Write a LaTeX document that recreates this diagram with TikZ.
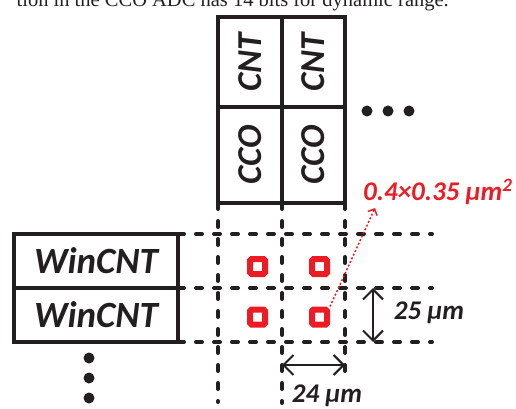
\documentclass[tikz,border=0pt]{standalone}
\usepackage{fontspec}
\setmainfont{Carlito}
\newfontfamily\serifx{Liberation Serif}
\usetikzlibrary{arrows.meta}
\definecolor{myred}{RGB}{237,28,36}
\definecolor{ink}{RGB}{35,31,32}
\tikzset{
  cellbox/.style={draw=ink, line width=4pt, inner sep=0pt, outer sep=0pt, text=ink,
    font=\bfseries\itshape\fontsize{35}{38}\selectfont},
  gridline/.style={draw=ink, line width=4pt, line cap=round, dash pattern=on 6pt off 12pt},
  redsq/.style={draw=myred, line width=6pt, minimum size=15pt, rounded corners=1.5pt, inner sep=0pt},
  blackdot/.style={circle, fill=ink, minimum size=11pt, inner sep=0pt},
  dimarrow/.style={draw=ink, line width=2pt, {Straight Barb[length=10pt,width=20pt]}-{Straight Barb[length=10pt,width=20pt]}},
  dimlabel/.style={text=ink, font=\bfseries\itshape\fontsize{27}{30}\selectfont, inner sep=0pt},
}
\begin{document}
\begin{tikzpicture}[x=1pt,y=-1pt]
\useasboundingbox (0,0) rectangle (516,409);
\node[anchor=base east, inner sep=0pt, text=ink, font=\serifx\fontsize{20.5}{24}\selectfont] (caption) at (449,6.5) {tion in the CCO ADC has 14 bits for dynamic range.};
% column cells
\node[cellbox, rotate=90, minimum width=90pt, minimum height=64pt] (cnt1) at (250,62) {CNT};
\node[cellbox, rotate=90, minimum width=90pt, minimum height=63pt] (cnt2) at (313.5,62) {CNT};
\node[cellbox, rotate=90, minimum width=96pt, minimum height=64pt] (cco1) at (250,155) {CCO};
\node[cellbox, rotate=90, minimum width=96pt, minimum height=63pt] (cco2) at (313.5,155) {CCO};
% row boxes
\node[cellbox, minimum width=164pt, minimum height=54pt, font=\bfseries\itshape\fontsize{37}{40}\selectfont] (win1) at (96,261) {WinCNT};
\node[cellbox, minimum width=164pt, minimum height=54pt, font=\bfseries\itshape\fontsize{37}{40}\selectfont] (win2) at (96,315) {WinCNT};
% grid coordinates
\coordinate (v1t) at (218,203); \coordinate (v1b) at (218,402);
\coordinate (v2t) at (282,203); \coordinate (v2b) at (282,403);
\coordinate (v3t) at (345,203); \coordinate (v3b) at (345,382);
\coordinate (h1e) at (432,234);
\coordinate (h2e) at (432,288);
\coordinate (h3e) at (432,342);
\draw[gridline] (v1t) -- (v1b);
\draw[gridline] (v2t) -- (v2b);
\draw[gridline] (v3t) -- (v3b);
\draw[gridline] (win1.north east) -- (h1e);
\draw[gridline] (win1.south east) -- (h2e);
\draw[gridline] (win2.south east) -- (h3e);
% red squares
\node[redsq] (sq1) at (257.5,266.5) {};
\node[redsq] (sq2) at (319.5,266.5) {};
\node[redsq] (sq3) at (257.5,317) {};
\node[redsq] (sq4) at (319.5,317) {};
% area label
\node[anchor=west, inner sep=0pt, text=myred, font=\bfseries\itshape\fontsize{27}{30}\selectfont] (area) at (363,192) {0.4×0.35 µm\textsuperscript{2}};
\coordinate (areatip) at (375,208);
\draw[myred, line width=1.5pt, dash pattern=on 2pt off 2pt, -{Straight Barb[length=5pt,width=10pt]}] (sq4.north east) -- (areatip);
% dimensions
\coordinate (d25t) at (373,288); \coordinate (d25b) at (373,342);
\draw[dimarrow] (d25t) -- (d25b);
\node[dimlabel] (l25) at (429,313) {25 µm};
\coordinate (d24l) at (282,365); \coordinate (d24r) at (345,365);
\draw[dimarrow] (d24l) -- (d24r);
\node[dimlabel] (l24) at (327,396) {24 µm};
% ellipsis dots
\node[blackdot] (hd1) at (367,111) {};
\node[blackdot] (hd2) at (388,111) {};
\node[blackdot] (hd3) at (409,111) {};
\node[blackdot] (vd1) at (89,358) {};
\node[blackdot] (vd2) at (89,378) {};
\node[blackdot] (vd3) at (89,398) {};
\end{tikzpicture}
\end{document}
